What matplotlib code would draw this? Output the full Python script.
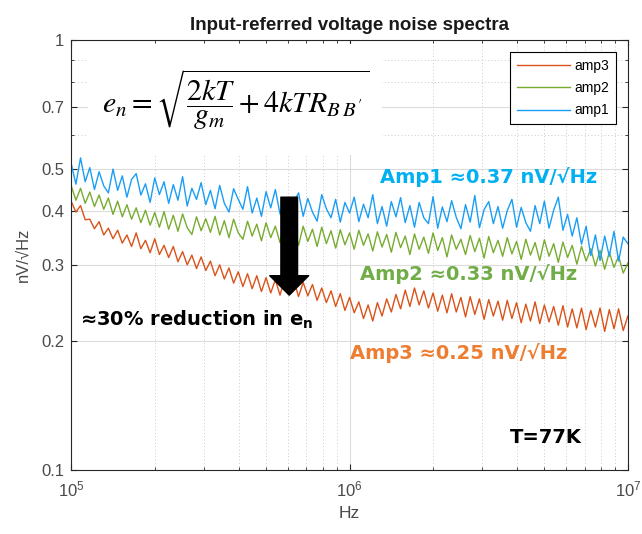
import numpy as np
import matplotlib
matplotlib.use('Agg')
import matplotlib.pyplot as plt
from matplotlib.ticker import FixedLocator, NullFormatter
from matplotlib.patches import Rectangle

plt.rcParams['font.family'] = ['Liberation Sans', 'DejaVu Sans']
plt.rcParams['mathtext.fontset'] = 'custom'
plt.rcParams['mathtext.rm'] = 'DejaVu Sans:bold'
plt.rcParams['mathtext.it'] = 'DejaVu Sans:bold'
plt.rcParams['mathtext.bf'] = 'DejaVu Sans:bold'

# sample points (log spaced, 1e5..1e7)
freq = np.logspace(5, 7, 121)

# noise spectra (nV/sqrt(Hz))
amp1 = [.515, .462, .532, .468, .505, .449, .494, .458, .441, .501,
        .447, .483, .431, .474, .489, .436, .463, .419, .478, .437,
        .468, .417, .461, .424, .481, .411, .452, .426, .466, .414,
        .447, .405, .459, .417, .398, .451, .426, .404, .456, .396,
        .429, .389, .444, .407, .449, .394, .429, .386, .421, .441,
        .389, .428, .398, .379, .437, .405, .386, .426, .377, .419,
        .396, .431, .378, .415, .386, .437, .374, .410, .369, .421,
        .388, .430, .376, .412, .367, .419, .386, .374, .432, .365,
        .409, .378, .423, .387, .364, .414, .377, .435, .366, .403,
        .421, .374, .410, .365, .401, .426, .367, .408, .376, .359,
        .412, .374, .422, .365, .402, .431, .361, .393, .350, .386,
        .335, .369, .315, .352, .307, .350, .314, .359, .306, .348,
        .336]
amp2 = [.458, .424, .452, .417, .443, .410, .436, .404, .429, .393,
        .422, .388, .414, .383, .407, .376, .402, .371, .397, .367,
        .399, .363, .391, .359, .394, .366, .353, .388, .360, .384,
        .357, .389, .352, .380, .347, .383, .356, .344, .379, .350,
        .373, .341, .376, .347, .369, .338, .373, .344, .366, .333,
        .369, .340, .363, .331, .367, .336, .360, .328, .362, .334,
        .356, .326, .361, .333, .354, .323, .358, .330, .353, .321,
        .357, .329, .350, .317, .354, .326, .348, .319, .356, .324,
        .347, .313, .352, .326, .344, .317, .351, .322, .346, .311,
        .349, .320, .342, .314, .347, .318, .340, .309, .344, .316,
        .338, .307, .343, .314, .336, .304, .339, .312, .333, .301,
        .331, .306, .327, .298, .324, .293, .321, .296, .314, .287,
        .303]
amp3 = [.421, .398, .412, .382, .383, .364, .378, .352, .365, .345,
        .361, .337, .352, .331, .356, .327, .342, .320, .345, .317,
        .333, .312, .331, .305, .322, .300, .316, .294, .313, .291,
        .306, .283, .300, .278, .295, .272, .289, .267, .286, .264,
        .283, .260, .280, .258, .277, .255, .278, .257, .276, .253,
        .273, .254, .270, .248, .265, .245, .261, .240, .257, .235,
        .252, .232, .246, .225, .242, .222, .245, .228, .250, .233,
        .256, .237, .262, .240, .265, .242, .261, .238, .258, .234,
        .255, .232, .257, .233, .252, .227, .253, .230, .250, .224,
        .249, .228, .247, .223, .248, .225, .245, .220, .243, .222,
        .246, .219, .242, .221, .240, .217, .241, .215, .237, .214,
        .238, .212, .235, .215, .238, .210, .236, .213, .237, .211,
        .228]

yticks = [0.1, 0.2, 0.3, 0.4, 0.5, 0.7, 1]
ytick_labels = ['0.1', '0.2', '0.3', '0.4', '0.5', '0.7', '1']

fig = plt.figure(figsize=(6.42, 5.34), dpi=100)
ax = fig.add_axes([0.111, 0.12, 0.867, 0.805])

ax.plot(freq, amp3, color='#D9531A', lw=1.0, label='amp3')
ax.plot(freq, amp2, color='#77AC30', lw=1.0, label='amp2')
ax.plot(freq, amp1, color='#1A9EF5', lw=1.0, label='amp1')

ax.set_xscale('log')
ax.set_yscale('log')
ax.set_xlim(1e5, 1e7)
ax.set_ylim(0.1, 1)
ax.set_yticks(yticks)
ax.set_yticklabels(ytick_labels)
ax.yaxis.set_minor_locator(FixedLocator([0.6, 0.8, 0.9]))
ax.yaxis.set_minor_formatter(NullFormatter())

ax.set_axisbelow(True)
ax.grid(True, which='major', color='#dcdcdc', lw=0.8, ls='-')
ax.grid(True, which='minor', color='#b8b8b8', lw=0.6, ls=(0, (1, 3)))
ax.tick_params(which='both', direction='in', top=True, right=True,
               colors='#262626', labelcolor='#4a4a4a', labelsize=12)
ax.tick_params(which='major', length=4)
ax.tick_params(which='minor', length=2)
ax.tick_params(axis='x', pad=7)
ax.tick_params(axis='y', pad=5)
for s in ax.spines.values():
    s.set_color('#262626')
    s.set_linewidth(0.8)

ax.set_title('Input-referred voltage noise spectra', fontsize=13.5,
             fontweight='bold', color='#1a1a1a', pad=7)
ax.set_xlabel('Hz', fontsize=12.5, color='#4a4a4a', labelpad=5)
ax.set_ylabel('nV/√Hz', fontsize=12, color='#4a4a4a', labelpad=8)

leg = ax.legend(loc='upper right', fontsize=10, handlelength=3.8,
                fancybox=False, edgecolor='black', framealpha=1,
                borderaxespad=0.85, borderpad=0.5, labelspacing=0.6,
                handletextpad=0.3)
leg.get_frame().set_linewidth(0.8)

# white patch behind the formula
ax.add_patch(Rectangle((0.03, 0.733), 0.528, 0.257, transform=ax.transAxes,
                       facecolor='white', edgecolor='none', zorder=1.5))
ax.text(0.296, 0.862, r'$e_n = \sqrt{\dfrac{2kT}{g_m} + 4kTR_{B\,B^\prime}}$',
        transform=ax.transAxes, ha='center', va='center', fontsize=21.5,
        math_fontfamily='stix', zorder=3)

# arrow
ax.annotate('', xy=(6.07e5, 0.255), xytext=(6.07e5, 0.431),
            arrowprops=dict(facecolor='black', edgecolor='black',
                            width=12, headwidth=28, headlength=14))

lab = dict(fontsize=14, fontweight='bold', va='center', ha='left',
           family='DejaVu Sans')
ax.text(1.29e6, 0.481, 'Amp1 ≈0.37 nV/√Hz', color='#00B0F0', **lab)
ax.text(1.09e6, 0.285, 'Amp2 ≈0.33 nV/√Hz', color='#70AD47', **lab)
ax.text(1.0e6, 0.187, 'Amp3 ≈0.25 nV/√Hz', color='#ED7D31', **lab)
ax.text(1.077e5, 0.224, r'≈30% reduction in e$_\mathrm{n}$', color='black', **lab)
ax.text(3.77e6, 0.119, 'T=77K', color='black', **lab)

fig.savefig('out.png', dpi=100)
